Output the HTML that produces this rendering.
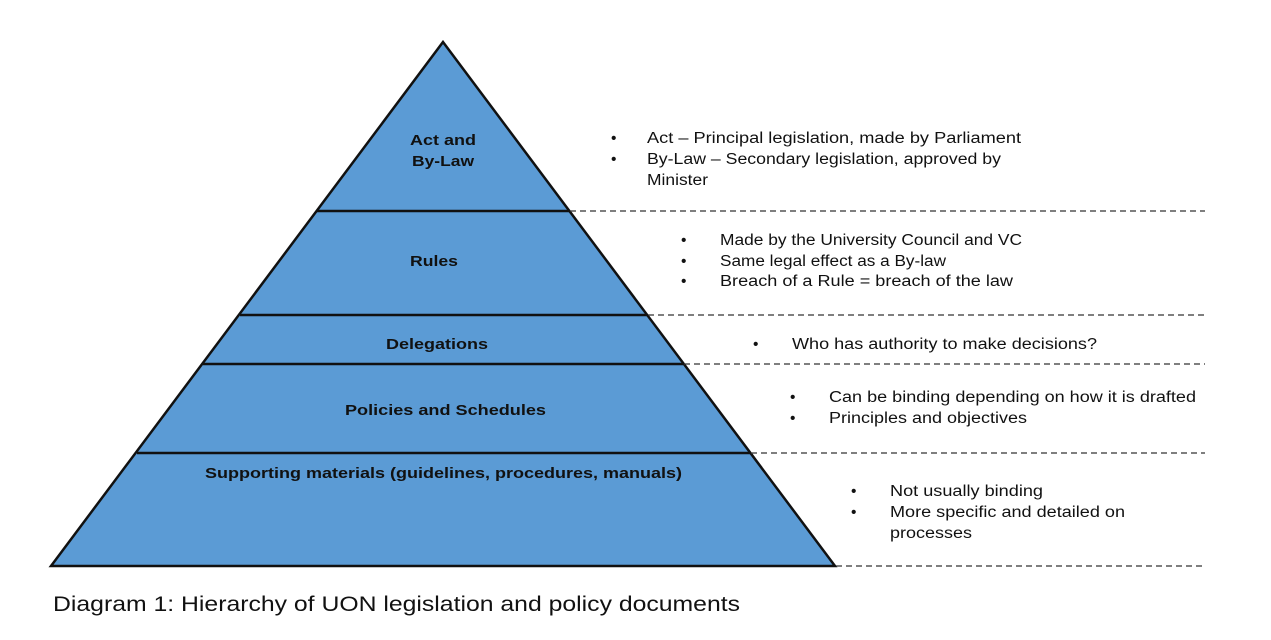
<!DOCTYPE html>
<html><head><meta charset="utf-8"><style>
html,body{margin:0;padding:0;background:#fff;width:1271px;height:640px;overflow:hidden}
svg{display:block}
text{font-family:"Liberation Sans",Arial,sans-serif;fill:#111}
.b{font-weight:bold;font-size:15px}
.r{font-size:15.5px}
</style></head><body>
<svg width="1271" height="640" viewBox="0 0 1271 640">
<polygon points="443,42 835,566 51,566" fill="#5b9bd5" stroke="#111" stroke-width="2.5" stroke-linejoin="miter"/>
<g stroke="#111" stroke-width="2.5">
<line x1="317" y1="211" x2="569" y2="211"/>
<line x1="240" y1="315" x2="647" y2="315"/>
<line x1="203" y1="364" x2="683" y2="364"/>
<line x1="137" y1="453" x2="750" y2="453"/>
</g>
<g stroke="#333" stroke-width="1.2" stroke-dasharray="6,4">
<line x1="570" y1="211" x2="1205" y2="211"/>
<line x1="648" y1="315" x2="1205" y2="315"/>
<line x1="684" y1="364" x2="1205" y2="364"/>
<line x1="751" y1="453" x2="1205" y2="453"/>
<line x1="836" y1="566" x2="1205" y2="566"/>
</g>
<text class="b" x="410" y="145" textLength="66" lengthAdjust="spacingAndGlyphs">Act and</text>
<text class="b" x="412" y="166" textLength="62" lengthAdjust="spacingAndGlyphs">By-Law</text>
<text class="b" x="410" y="266" textLength="48" lengthAdjust="spacingAndGlyphs">Rules</text>
<text class="b" x="386" y="349" textLength="102" lengthAdjust="spacingAndGlyphs">Delegations</text>
<text class="b" x="345" y="415" textLength="201" lengthAdjust="spacingAndGlyphs">Policies and Schedules</text>
<text class="b" x="205" y="478" textLength="477" lengthAdjust="spacingAndGlyphs">Supporting materials (guidelines, procedures, manuals)</text>

<text class="r" x="611" y="143">•</text>
<text class="r" x="647" y="143" textLength="374" lengthAdjust="spacingAndGlyphs">Act – Principal legislation, made by Parliament</text>
<text class="r" x="611" y="164">•</text>
<text class="r" x="647" y="164" textLength="354" lengthAdjust="spacingAndGlyphs">By-Law – Secondary legislation, approved by</text>
<text class="r" x="647" y="185" textLength="61" lengthAdjust="spacingAndGlyphs">Minister</text>

<text class="r" x="681" y="245">•</text>
<text class="r" x="720" y="245" textLength="302" lengthAdjust="spacingAndGlyphs">Made by the University Council and VC</text>
<text class="r" x="681" y="266">•</text>
<text class="r" x="720" y="266" textLength="226" lengthAdjust="spacingAndGlyphs">Same legal effect as a By-law</text>
<text class="r" x="681" y="286">•</text>
<text class="r" x="720" y="286" textLength="293" lengthAdjust="spacingAndGlyphs">Breach of a Rule = breach of the law</text>

<text class="r" x="753" y="349">•</text>
<text class="r" x="792" y="349" textLength="305" lengthAdjust="spacingAndGlyphs">Who has authority to make decisions?</text>

<text class="r" x="790" y="402">•</text>
<text class="r" x="829" y="402" textLength="367" lengthAdjust="spacingAndGlyphs">Can be binding depending on how it is drafted</text>
<text class="r" x="790" y="423">•</text>
<text class="r" x="829" y="423" textLength="198" lengthAdjust="spacingAndGlyphs">Principles and objectives</text>

<text class="r" x="851" y="496">•</text>
<text class="r" x="890" y="496" textLength="153" lengthAdjust="spacingAndGlyphs">Not usually binding</text>
<text class="r" x="851" y="517">•</text>
<text class="r" x="890" y="517" textLength="235" lengthAdjust="spacingAndGlyphs">More specific and detailed on</text>
<text class="r" x="890" y="538" textLength="82" lengthAdjust="spacingAndGlyphs">processes</text>

<text x="53" y="611" style="font-size:21px" textLength="687" lengthAdjust="spacingAndGlyphs">Diagram 1: Hierarchy of UON legislation and policy documents</text>
</svg>
</body></html>
